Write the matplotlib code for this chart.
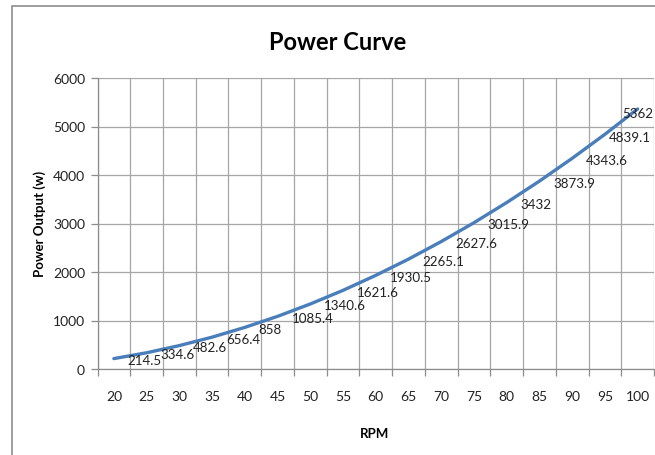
import matplotlib.pyplot as plt
from matplotlib.patches import Rectangle
import numpy as np

plt.rcParams['font.family'] = ['Lato', 'DejaVu Sans']

rpm = ['20', '25', '30', '35', '40', '45', '50', '55', '60',
       '65', '70', '75', '80', '85', '90', '95', '100']
power = [214.5, 334.6, 482.6, 656.4, 858, 1085.4, 1340.6, 1621.6, 1930.5,
         2265.1, 2627.6, 3015.9, 3432, 3873.9, 4343.6, 4839.1, 5362]

W, H = 655, 456
fig = plt.figure(figsize=(W / 100, H / 100), dpi=100)

# outer chart frame (Excel style)
fig.patches.append(Rectangle((12 / W, -0.1), 1.2, (456 - 7) / H + 0.1,
                             transform=fig.transFigure, fill=False,
                             edgecolor='#8c8c8c', linewidth=1.2))

left, right, top, bottom = 97.5, 654, 79, 370
ax = fig.add_axes([left / W, 1 - bottom / H, (right - left) / W, (bottom - top) / H])

x = np.arange(len(rpm))
ax.plot(x, power, color='#4a7ebb', linewidth=2.4, solid_capstyle='round', zorder=3)

# data labels, to the right of each point; the last two pushed back inside
n = len(power)
for i, v in enumerate(power):
    lbl = '{:g}'.format(v)
    if i == n - 1:
        off = (-11, -3)
    elif i == n - 2:
        off = (3, -2)
    else:
        off = (10, -1)
    ax.annotate(lbl, (i, v), xytext=off, textcoords='offset points',
                ha='left', va='center', fontsize=9.6, color='#222222')

ax.set_xlim(-0.5, len(rpm) - 0.5)
ax.set_ylim(0, 6000)
ax.set_yticks(np.arange(0, 6001, 1000))
ax.set_xticks(x)
ax.set_xticklabels(rpm)
ax.set_xticks(np.arange(-0.5, len(rpm), 1), minor=True)

ax.grid(True, which='major', axis='y', color='#a6a6a6', linewidth=0.9)
ax.grid(True, which='minor', axis='x', color='#a6a6a6', linewidth=0.9)
ax.set_axisbelow(True)

ax.tick_params(axis='x', which='major', length=0, pad=15, labelsize=10, colors='#222222')
ax.tick_params(axis='x', which='minor', length=5, width=0.9, color='#8c8c8c')
ax.tick_params(axis='y', length=5, width=0.9, color='#8c8c8c', labelsize=10,
               labelcolor='#222222', pad=4)

for s in ['top', 'right']:
    ax.spines[s].set_visible(False)
for s in ['left', 'bottom']:
    ax.spines[s].set_color('#8c8c8c')
    ax.spines[s].set_linewidth(0.9)

fig.text(338 / W, 1 - 42 / H, 'Power Curve', ha='center', va='center',
         fontsize=17, fontweight='bold')
fig.text(40 / W, 1 - 224 / H, 'Power Output (w)', ha='center', va='center',
         rotation=90, fontsize=9.5, fontweight='bold')
fig.text(375 / W, 1 - 434 / H, 'RPM', ha='center', va='center',
         fontsize=9.5, fontweight='bold')

plt.savefig('out.png', dpi=100)
